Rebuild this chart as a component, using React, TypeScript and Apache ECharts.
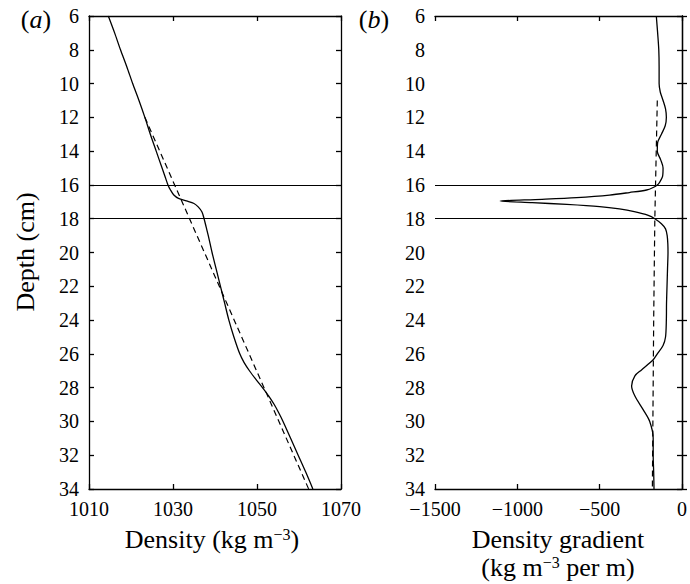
import React, { useEffect, useRef } from "react";
import * as echarts from "echarts";

// Panel (a): measured density profile
const depthA = [6, 7, 8, 9, 10, 11, 12, 13, 14, 15, 15.5, 16, 16.3, 16.6, 16.8, 16.95, 17.1, 17.3, 17.6, 18, 18.5, 19, 20, 21, 22, 23, 24, 25, 26, 26.5, 27, 27.5, 28, 28.5, 29, 29.5, 30, 31, 32, 33, 34];
const densityA = [1014.6, 1016.1, 1017.5, 1019.0, 1020.4, 1021.9, 1023.3, 1024.6, 1026.0, 1027.4, 1028.1, 1028.8, 1029.4, 1030.2, 1031.3, 1033.2, 1035.0, 1036.0, 1036.9, 1037.4, 1037.9, 1038.4, 1039.3, 1040.3, 1041.3, 1042.3, 1043.3, 1044.5, 1045.9, 1046.9, 1048.2, 1049.7, 1051.3, 1052.8, 1054.1, 1055.2, 1056.2, 1058.0, 1059.8, 1061.6, 1063.3];
// Panel (a): linear fit (dashed)
const depthFitA = [12, 34];
const densityFitA = [1023.3, 1062.3];

// Panel (b): density gradient
const depthB = [6, 7, 8, 9, 10, 10.5, 11, 11.5, 12, 12.5, 13, 13.5, 14, 14.5, 15, 15.5, 15.9, 16.0, 16.15, 16.3, 16.45, 16.6, 16.75, 16.85, 16.95, 17.05, 17.15, 17.28, 17.42, 17.58, 17.8, 18.0, 18.3, 18.6, 19, 19.5, 20, 21, 22, 23, 24, 25, 25.5, 26, 26.35, 26.95, 27.3, 27.9, 28.5, 29.3, 30, 31, 32, 33, 34];
const gradientB = [-156, -148, -141, -139, -139, -132, -115, -100, -95, -102, -125, -148, -150, -130, -115, -118, -140, -150, -175, -215, -320, -440, -640, -850, -1105, -910, -700, -500, -380, -290, -205, -165, -125, -100, -90, -86, -85, -88, -91, -94, -95, -100, -115, -150, -175, -246, -286, -306, -286, -236, -196, -175, -175, -172, -170];
// Panel (b): gradient of the fit (dashed)
const depthFitB = [11, 18, 24, 34];
const gradientFitB = [-150, -165, -172, -180];

// Interface lines
const interfaces = [16, 18];

const xTicksA = [1010, 1030, 1050, 1070];
const xTicksB = [-1500, -1000, -500, 0];

const FONT = "Liberation Serif";

const pairs = (xs: number[], ys: number[]) => ys.map((y, i) => [xs[i], y]);

export default function App() {
  const ref = useRef<HTMLDivElement>(null);
  useEffect(() => {
    document.body.style.margin = "0";
    if (!ref.current) return;
    const chart = echarts.init(ref.current, undefined, { renderer: "svg" });

    const axisLine = { show: true, lineStyle: { color: "#000", width: 1.3 } };
    const axisTick = { show: true, inside: true, length: 5, lineStyle: { color: "#000", width: 1.3 } };
    const label = { color: "#000", fontSize: 20, fontFamily: FONT };
    const fmtMinus = (v: number) => String(v).replace("-", "\u2212");

    const xAxisBase = (grid: number, ticks: number[], pos: "bottom" | "top", showLabel: boolean) => ({
      type: "value",
      gridIndex: grid,
      position: pos,
      min: ticks[0],
      max: ticks[ticks.length - 1],
      interval: ticks[1] - ticks[0],
      axisLine,
      axisTick,
      splitLine: { show: false },
      axisLabel: { show: showLabel, ...label, margin: 10, formatter: fmtMinus },
    });
    const yAxisBase = (grid: number, pos: "left" | "right", showLabel: boolean) => ({
      type: "value",
      gridIndex: grid,
      position: pos,
      inverse: true,
      min: 6,
      max: 34,
      interval: 2,
      axisLine,
      axisTick,
      splitLine: { show: false },
      axisLabel: { show: showLabel, ...label, margin: 10 },
    });

    const markLine = {
      silent: true,
      symbol: ["none", "none"],
      label: { show: false },
      lineStyle: { color: "#000", width: 1.2, type: "solid" },
      data: interfaces.map((d) => ({ yAxis: d })),
    };

    const solid = { color: "#000", width: 1.3, type: "solid" };
    const dashed = { color: "#000", width: 1.2, type: [6, 4] };

    const rich = {
      t: { fontSize: 26, fontFamily: FONT, fill: "#000", lineHeight: 26 },
      s: { fontSize: 16, fontFamily: FONT, fill: "#000", lineHeight: 14, verticalAlign: "top" },
      i: { fontSize: 26, fontFamily: FONT, fontStyle: "italic", fill: "#000", lineHeight: 26 },
    };

    const txt = (x: number, y: number, text: string, extra: any = {}) => ({
      type: "text",
      x,
      y,
      ...extra,
      style: {
        text,
        rich,
        align: "center",
        verticalAlign: "middle",
        fill: "#000",
        fontFamily: FONT,
        fontSize: 26,
      },
    });

    chart.setOption({
      animation: false,
      backgroundColor: "#fff",
      textStyle: { fontFamily: FONT },
      grid: [
        { left: 89, top: 16, width: 252, height: 473 },
        { left: 435, top: 16, width: 249, height: 473 },
      ],
      xAxis: [
        xAxisBase(0, xTicksA, "bottom", true),
        xAxisBase(0, xTicksA, "top", false),
        xAxisBase(1, xTicksB, "bottom", true),
        xAxisBase(1, xTicksB, "top", false),
      ],
      yAxis: [
        yAxisBase(0, "left", true),
        yAxisBase(0, "right", false),
        yAxisBase(1, "left", true),
        yAxisBase(1, "right", false),
      ],
      series: [
        {
          type: "line",
          xAxisIndex: 0,
          yAxisIndex: 0,
          data: pairs(densityA, depthA),
          showSymbol: false,
          symbol: "none",
          smooth: 0.3,
          lineStyle: solid,
          markLine,
        },
        {
          type: "line",
          xAxisIndex: 0,
          yAxisIndex: 0,
          data: pairs(densityFitA, depthFitA),
          showSymbol: false,
          symbol: "none",
          lineStyle: dashed,
        },
        {
          type: "line",
          xAxisIndex: 2,
          yAxisIndex: 2,
          data: pairs(gradientB, depthB),
          showSymbol: false,
          symbol: "none",
          smooth: 0.3,
          lineStyle: solid,
          markLine,
        },
        {
          type: "line",
          xAxisIndex: 2,
          yAxisIndex: 2,
          data: pairs(gradientFitB, depthFitB),
          showSymbol: false,
          symbol: "none",
          lineStyle: dashed,
        },
      ],
      graphic: [
        txt(212, 539, "{t|Density (kg m}{s|\u22123}{t|)}"),
        txt(558, 539, "{t|Density gradient}"),
        txt(558, 567, "{t|(kg m}{s|\u22123}{t| per m)}"),
        txt(25, 252, "{t|Depth (cm)}", { rotation: Math.PI / 2 }),
        txt(36, 19, "{t|(}{i|a}{t|)}"),
        txt(374, 19, "{t|(}{i|b}{t|)}"),
      ],
    });
    return () => chart.dispose();
  }, []);
  return <div ref={ref} style={{ width: 690, height: 584 }} />;
}
